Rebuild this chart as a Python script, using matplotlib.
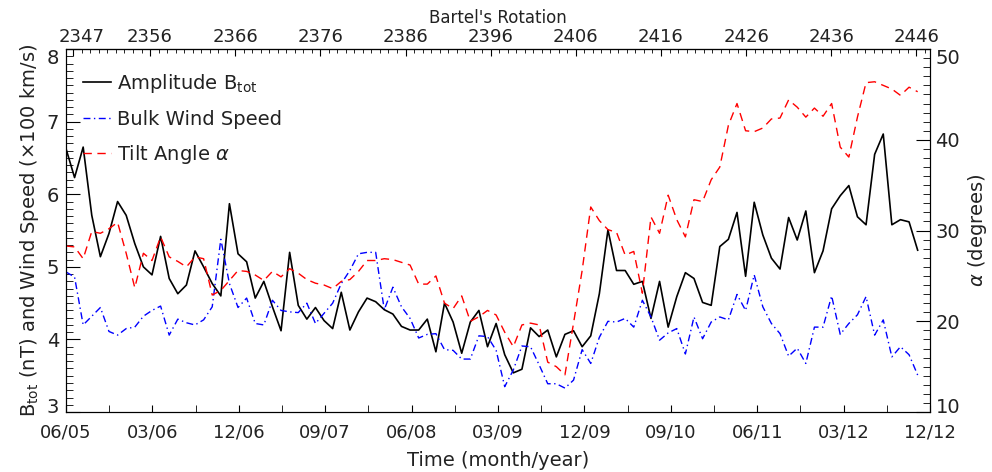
import numpy as np
import matplotlib
matplotlib.use('Agg')
import matplotlib.pyplot as plt
from matplotlib.ticker import MultipleLocator, FixedLocator
from matplotlib.transforms import ScaledTranslation

# Data: one value per solar rotation, starting June 2005
start_year = 2005 + 5 / 12
rot_step = 27.2753 / 365.25          # years per rotation
n_rot = 100

b_tot = [6.63, 6.23, 6.65, 5.71, 5.14, 5.46, 5.90, 5.71, 5.32, 5.00,
         4.89, 5.42, 4.84, 4.63, 4.75, 5.22, 5.00, 4.77, 4.60, 5.87,
         5.18, 5.07, 4.57, 4.80, 4.45, 4.12, 5.20, 4.47, 4.28, 4.44,
         4.26, 4.15, 4.65, 4.13, 4.38, 4.57, 4.52, 4.41, 4.35, 4.18,
         4.13, 4.13, 4.28, 3.83, 4.50, 4.24, 3.81, 4.24, 4.40, 3.90,
         4.22, 3.79, 3.54, 3.59, 4.16, 4.04, 4.13, 3.76, 4.07, 4.12,
         3.90, 4.05, 4.63, 5.51, 4.95, 4.95, 4.76, 4.80, 4.29, 4.80,
         4.17, 4.59, 4.92, 4.84, 4.51, 4.47, 5.28, 5.38, 5.75, 4.87,
         5.89, 5.44, 5.12, 4.97, 5.68, 5.37, 5.77, 4.92, 5.22, 5.80,
         5.98, 6.12, 5.69, 5.58, 6.55, 6.83, 5.58, 5.65, 5.62, 5.23]

wind_speed = [4.93, 4.86, 4.20, 4.32, 4.44, 4.11, 4.06, 4.15, 4.17, 4.32,
              4.40, 4.46, 4.06, 4.28, 4.23, 4.20, 4.27, 4.45, 5.38, 4.77,
              4.44, 4.57, 4.22, 4.20, 4.54, 4.40, 4.38, 4.37, 4.50, 4.22,
              4.36, 4.50, 4.77, 4.95, 5.18, 5.20, 5.20, 4.41, 4.72, 4.45,
              4.29, 4.02, 4.07, 4.08, 3.86, 3.85, 3.73, 3.73, 4.05, 4.04,
              3.85, 3.35, 3.58, 3.91, 3.90, 3.65, 3.39, 3.39, 3.33, 3.44,
              3.86, 3.67, 4.03, 4.25, 4.24, 4.29, 4.17, 4.54, 4.31, 3.99,
              4.09, 4.15, 3.80, 4.31, 4.01, 4.24, 4.31, 4.27, 4.62, 4.40,
              4.89, 4.45, 4.22, 4.08, 3.77, 3.88, 3.67, 4.17, 4.17, 4.60,
              4.07, 4.22, 4.34, 4.59, 4.06, 4.27, 3.76, 3.90, 3.79, 3.51]

tilt_angle = [28.3, 28.2, 26.9, 29.9, 29.7, 30.2, 30.9, 27.5, 23.7, 27.5,
              26.7, 29.3, 27.1, 26.6, 26.0, 27.1, 26.9, 22.9, 23.4, 24.5,
              25.6, 25.5, 25.1, 24.5, 25.5, 24.9, 25.8, 25.3, 24.6, 24.2,
              24.0, 23.6, 24.4, 24.6, 25.5, 26.7, 26.7, 26.9, 26.8, 26.5,
              26.2, 24.1, 24.1, 25.0, 22.0, 21.4, 22.8, 20.0, 20.5, 21.2,
              20.7, 18.8, 17.2, 19.6, 19.8, 19.6, 15.5, 15.0, 14.1, 19.8,
              25.6, 32.6, 31.1, 30.1, 29.8, 27.3, 27.7, 23.1, 31.5, 29.7,
              33.9, 31.2, 29.3, 33.4, 33.2, 35.6, 37.0, 41.6, 44.0, 41.0,
              40.9, 41.3, 42.3, 42.4, 44.4, 43.6, 42.5, 43.5, 42.6, 44.0,
              39.2, 38.1, 42.5, 46.3, 46.4, 46.0, 45.6, 44.9, 45.8, 45.3]

time_labels = ['06/05', '03/06', '12/06', '09/07', '06/08', '03/09',
               '12/09', '09/10', '06/11', '03/12', '12/12']
bartels_ticks = [2347, 2356, 2366, 2376, 2386, 2396, 2406, 2416, 2426, 2436, 2446]
left_ticks = [3, 4, 5, 6, 7, 8]
right_ticks = [10, 20, 30, 40, 50]

t = start_year + rot_step * np.arange(n_rot)

# Bartels rotation <-> decimal year
bartels_ref_year = 2005.481
bartels_len = 27 / 365.25


def yr2rot(y):
    return 2347 + (np.asarray(y) - bartels_ref_year) / bartels_len


def rot2yr(r):
    return bartels_ref_year + (np.asarray(r) - 2347) * bartels_len


plt.rcParams['font.family'] = 'DejaVu Sans'
text_color = '#222222'

fig = plt.figure(figsize=(9.92, 4.72), dpi=100)
ax = fig.add_axes([0.0665, 0.127, 0.871, 0.769])
ax2 = ax.twinx()

l1, = ax.plot(t, b_tot, color='black', lw=1.2, label='Amplitude B$_{\\rm tot}$')
l2, = ax.plot(t, wind_speed, color='blue', lw=1.0, linestyle=(0, (5, 2.5, 1, 2.5)),
              label='Bulk Wind Speed')
l3, = ax2.plot(t, tilt_angle, color='red', lw=1.0, linestyle=(0, (6, 4)),
               label='Tilt Angle $\\alpha$')

x0, x1 = start_year, start_year + 7.5
ax.set_xlim(x0, x1)
ax.set_ylim(3, 8)
ax2.set_ylim(10, 50)

# bottom axis: time
tick_pos = x0 + 0.75 * np.arange(len(time_labels))
ax.set_xticks(tick_pos)
ax.set_xticklabels(time_labels)
ax.xaxis.set_minor_locator(FixedLocator(tick_pos[:-1] + 0.375))
ax.tick_params(axis='x', which='both', direction='in', length=5, labelsize=13,
               pad=8, labelcolor=text_color)

# left axis
ax.set_yticks(left_ticks)
ax.yaxis.set_minor_locator(MultipleLocator(0.1))
ax.tick_params(axis='y', which='major', direction='in', length=10, labelsize=14,
               pad=5, labelcolor=text_color)
ax.tick_params(axis='y', which='minor', direction='in', length=5)

# right axis
ax2.set_yticks(right_ticks)
ax2.yaxis.set_minor_locator(MultipleLocator(1))
ax2.tick_params(axis='y', which='major', direction='in', length=10, labelsize=14,
                pad=4, labelcolor=text_color)
ax2.tick_params(axis='y', which='minor', direction='in', length=5)

# top axis: Bartels rotation
top = ax.secondary_xaxis('top', functions=(yr2rot, rot2yr))
top.set_xticks(bartels_ticks)
top.xaxis.set_minor_locator(MultipleLocator(1))
top.tick_params(axis='x', which='major', direction='in', length=5, labelsize=13,
                pad=2, labelcolor=text_color)
top.tick_params(axis='x', which='minor', direction='in', length=3)
top.set_xlabel("Bartel's Rotation", fontsize=12, labelpad=4, color=text_color)

ax.set_xlabel('Time (month/year)', fontsize=14, labelpad=7, color=text_color)
ax.set_ylabel('B$_{\\rm tot}$ (nT) and Wind Speed (\u00d7100 km/s)', fontsize=14,
              labelpad=4, color=text_color)
ax2.set_ylabel('$\\alpha$ (degrees)', fontsize=14, labelpad=4, color=text_color)

leg = ax.legend(handles=[l1, l2, l3], loc='upper left', frameon=False, fontsize=14,
                handlelength=1.4, handletextpad=0.3, labelspacing=0.75,
                borderaxespad=0.5, bbox_to_anchor=(0.0, 0.985))
for txt in leg.get_texts():
    txt.set_color(text_color)

# IDL-style placement: end labels of the y axes sit inside the axis range
fig.canvas.draw()
down = ScaledTranslation(0, -5 / 72, fig.dpi_scale_trans)
up = ScaledTranslation(0, 5 / 72, fig.dpi_scale_trans)
for labels in (ax.get_yticklabels(), ax2.get_yticklabels()):
    labels[0].set_transform(labels[0].get_transform() + up)
    labels[-1].set_transform(labels[-1].get_transform() + down)
first_top = top.get_xticklabels()[0]
first_top.set_transform(first_top.get_transform() +
                        ScaledTranslation(6 / 72, 0, fig.dpi_scale_trans))

plt.savefig('out.png', dpi=100)
plt.close()
